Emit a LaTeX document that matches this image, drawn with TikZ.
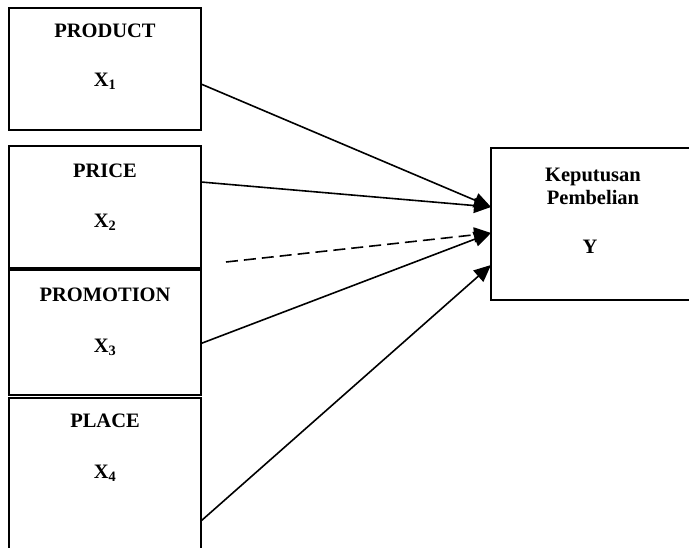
\documentclass[tikz,border=0pt]{standalone}
\usepackage{fontspec}
\setmainfont{Liberation Serif}
\usetikzlibrary{arrows.meta}
\tikzset{
  box/.style={draw, line width=2pt, rectangle, inner sep=0pt, outer sep=0pt, anchor=north west},
  lbl/.style={font=\fontsize{20.5}{23}\selectfont\bfseries, inner sep=0pt, align=center},
  conn/.style={line width=1.6pt, -{Triangle[length=17pt,width=15pt]}},
}
\begin{document}
\begin{tikzpicture}[x=1pt,y=-1pt]
\useasboundingbox (0,0) rectangle (689,548);
\clip (0,0) rectangle (689,548);
\fill[white] (0,0) rectangle (689,548);
% boxes
\node[box, minimum width=192pt, minimum height=122pt] (b1) at (9,8) {};
\node[box, minimum width=192pt, minimum height=124pt] (b2) at (9,146) {};
\node[box, minimum width=192pt, minimum height=127pt] (b3) at (9,268) {};
\node[box, minimum width=192pt, minimum height=170pt] (b4) at (9,398) {};
\node[box, minimum width=220pt, minimum height=152pt] (by) at (491,148) {};
% labels
\node[lbl] (t1) at (105,31) {PRODUCT};
\node[lbl] (s1) at (105,81) {X\textsubscript{1}};
\node[lbl] (t2) at (105,171) {PRICE};
\node[lbl] (s2) at (105,222) {X\textsubscript{2}};
\node[lbl] (t3) at (105,295) {PROMOTION};
\node[lbl] (s3) at (105,347) {X\textsubscript{3}};
\node[lbl] (t4) at (105,421) {PLACE};
\node[lbl] (s4) at (105,473) {X\textsubscript{4}};
\node[lbl] (ty) at (593,186) {Keputusan\\Pembelian};
\node[lbl] (sy) at (590,247) {Y};
% connectors
\coordinate (dstart) at (226,262);
\draw[conn] ([yshift=-15pt]b1.east) -- ([yshift=17pt]by.west);
\draw[conn] ([yshift=26pt]b2.east) -- ([yshift=17pt]by.west);
\draw[conn, dash pattern=on 12pt off 6pt] (dstart) -- ([yshift=-9pt]by.west);
\draw[conn] ([yshift=-12pt]b3.east) -- ([yshift=-9pt]by.west);
\draw[conn] ([yshift=-38pt]b4.east) -- ([yshift=-41pt]by.west);
\end{tikzpicture}
\end{document}
